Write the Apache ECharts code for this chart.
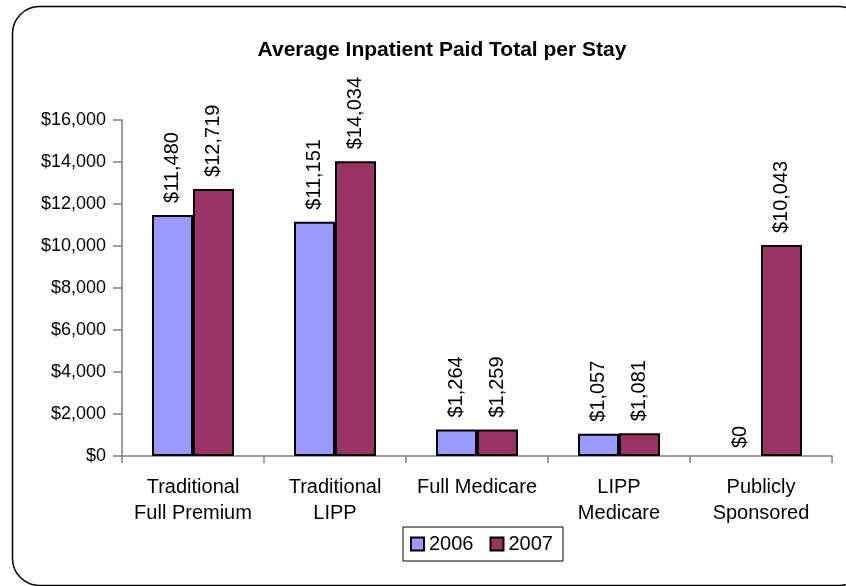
<!DOCTYPE html>
<html>
<head>
<meta charset="utf-8">
<script src="https://cdn.jsdelivr.net/npm/echarts@6/dist/echarts.min.js"></script>
<style>
  html, body { margin: 0; padding: 0; background: #fff; }
  #chart { width: 846px; height: 586px; }
</style>
</head>
<body>
<div id="chart"></div>
<script>
// Plan categories and average paid totals per inpatient stay
const categories = ['Traditional\nFull Premium', 'Traditional\nLIPP', 'Full Medicare', 'LIPP\nMedicare', 'Publicly\nSponsored'];
const values2006 = [11480, 11151, 1264, 1057, 0];
const values2007 = [12719, 14034, 1259, 1081, 10043];
const seriesNames = ['2006', '2007'];

const FONT = 'Liberation Sans, Arial, sans-serif';

function money(v) {
  return '$' + Number(v).toLocaleString('en-US');
}

const chart = echarts.init(document.getElementById('chart'), null, { renderer: 'canvas' });

function barSeries(name, values, color) {
  return {
    name: name,
    type: 'bar',
    // a zero-height bar gets no outline, so nothing is drawn over the axis
    data: values.map((v) => (v === 0
      ? { value: v, itemStyle: { borderWidth: 0 }, label: { distance: 8 } }
      : v)),
    barWidth: 41,
    barGap: '0%',
    itemStyle: { color: color, borderColor: '#000', borderWidth: 2 },
    label: {
      show: true,
      position: 'top',
      rotate: 90,
      align: 'left',
      verticalAlign: 'middle',
      distance: 12,
      color: '#000',
      fontFamily: FONT,
      fontSize: 20,
      formatter: (p) => money(p.value)
    },
    animation: false
  };
}

chart.setOption({
  backgroundColor: '#fff',
  animation: false,
  title: {
    text: 'Average Inpatient Paid Total per Stay',
    left: 437,
    textAlign: 'center',
    top: 35,
    textStyle: { fontFamily: FONT, fontSize: 21, fontWeight: 'bold', color: '#000' }
  },
  graphic: [{
    type: 'rect',
    shape: { x: 12.5, y: 6.5, width: 853, height: 579, r: 27 },
    style: { fill: null, stroke: '#000', lineWidth: 1.5 },
    silent: true,
    z: 100
  }],
  legend: {
    data: seriesNames,
    left: 403,
    top: 527,
    padding: [7, 10, 7, 7],
    itemWidth: 13,
    itemHeight: 13,
    itemGap: 16,
    borderColor: '#000',
    borderWidth: 1,
    icon: 'rect',
    textStyle: { fontFamily: FONT, fontSize: 20, color: '#000' },
    itemStyle: { borderColor: '#000', borderWidth: 2 }
  },
  grid: { left: 122, right: 14, top: 120, bottom: 130, containLabel: false },
  xAxis: {
    type: 'category',
    data: categories,
    axisLine: { lineStyle: { color: '#808080', width: 1.5 } },
    axisTick: { show: true, length: 7, lineStyle: { color: '#808080', width: 1.5 } },
    axisLabel: {
      color: '#000',
      fontFamily: FONT,
      fontSize: 20,
      lineHeight: 26,
      margin: 18,
      interval: 0
    }
  },
  yAxis: {
    type: 'value',
    min: 0,
    max: 16000,
    interval: 2000,
    axisLine: { show: true, lineStyle: { color: '#808080', width: 1.5 } },
    axisTick: { show: true, length: 9, lineStyle: { color: '#808080', width: 1.5 } },
    splitLine: { show: false },
    axisLabel: {
      color: '#000',
      fontFamily: FONT,
      fontSize: 18,
      margin: 16,
      formatter: (v) => money(v)
    }
  },
  series: [
    barSeries(seriesNames[0], values2006, '#9999FF'),
    barSeries(seriesNames[1], values2007, '#993366')
  ]
});
</script>
</body>
</html>
